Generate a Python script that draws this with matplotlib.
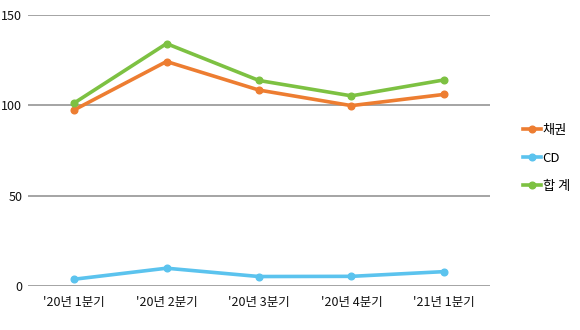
import matplotlib
matplotlib.use("Agg")
import matplotlib.pyplot as plt
from matplotlib.lines import Line2D

plt.rcParams['font.family'] = ['Noto Sans CJK KR', 'DejaVu Sans']

quarters = ["'20년 1분기", "'20년 2분기", "'20년 3분기", "'20년 4분기", "'21년 1분기"]
bonds = [97.4, 124.2, 108.4, 99.8, 106.0]
cd = [3.8, 9.9, 5.3, 5.4, 8.0]
total = [101.2, 134.1, 113.7, 105.2, 114.0]
series_names = ["채권", "CD", "합 계"]
yticks = [0, 50, 100, 150]

colors = ["#ED7D31", "#5BC3EE", "#7DC142"]

fig = plt.figure(figsize=(5.8, 3.3), dpi=100)
ax = fig.add_axes([0.048, 0.133, 0.797, 0.822])

x = list(range(len(quarters)))
for vals, c, name in zip([bonds, cd, total], colors, series_names):
    ax.plot(x, vals, color=c, lw=2.6, marker='o', ms=4.8, label=name,
            solid_capstyle='round', solid_joinstyle='round')

ax.set_xlim(-0.5, len(quarters) - 0.5)
ax.set_ylim(0, 150)
ax.set_yticks(yticks)
ax.set_yticklabels([str(v) for v in yticks])
ax.set_xticks(x)
ax.set_xticklabels(quarters)
ax.yaxis.grid(True, color="#8c8c8c", lw=1.1)
ax.set_axisbelow(True)
for s in ax.spines.values():
    s.set_visible(False)
ax.tick_params(axis='both', length=0, labelsize=9, colors="#111111")
ax.tick_params(axis='y', pad=4)
ax.tick_params(axis='x', pad=7)

handles = [Line2D([0], [0], color=c, lw=2.6, marker='o', ms=4.8) for c in colors]
fig.legend(handles, series_names, loc='center left', bbox_to_anchor=(0.898, 0.52),
           frameon=False, fontsize=9.5, handlelength=1.3, handletextpad=0.15,
           labelspacing=1.15, borderpad=0.2, borderaxespad=0.0)

fig.savefig("out.png", dpi=100)
